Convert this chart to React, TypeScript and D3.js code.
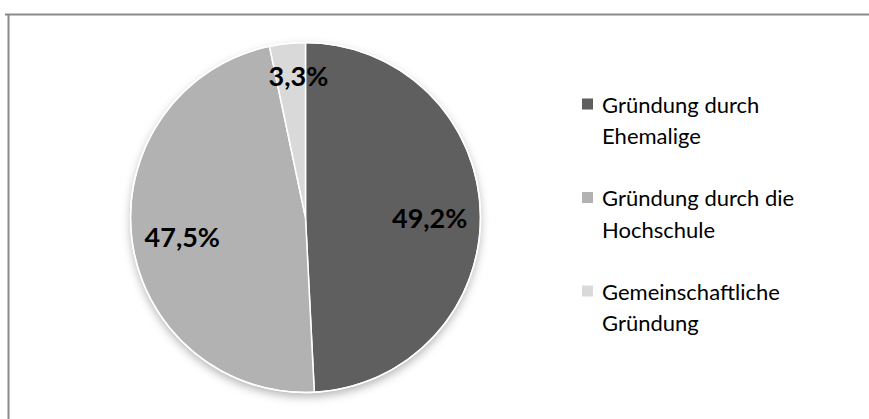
import React from "react";
import * as d3 from "d3";

const categories = ["Gründung durch Ehemalige", "Gründung durch die Hochschule", "Gemeinschaftliche Gründung"];
const legendLines = [["Gründung durch", "Ehemalige"], ["Gründung durch die", "Hochschule"], ["Gemeinschaftliche", "Gründung"]];
const values = [49.2, 47.5, 3.3];
const valueLabels = ["49,2%", "47,5%", "3,3%"];
const colors = ["#5f5f5f", "#b2b2b2", "#d9d9d9"];

const W = 869, H = 419;
const cx = 305.5, cy = 217.5, R = 175;

export default function App() {
  const pie = d3.pie<number>().sort(null).value((d) => d)(values);
  const arc = d3.arc<d3.PieArcDatum<number>>().innerRadius(0).outerRadius(R);
  const labelArc = d3.arc<d3.PieArcDatum<number>>().innerRadius(R * 0.71).outerRadius(R * 0.71);
  const labelArcSmall = d3.arc<d3.PieArcDatum<number>>().innerRadius(R * 0.835).outerRadius(R * 0.835);
  const font = "Lato, 'Open Sans', sans-serif";
  return (
    <svg width={W} height={H} style={{ position: "absolute", left: 0, top: 0 }}>
      <defs>
        <filter id="sh" x="-20%" y="-20%" width="140%" height="140%">
          <feDropShadow dx="0" dy="4" stdDeviation="5" floodColor="#000" floodOpacity="0.3" />
        </filter>
      </defs>
      <rect x={0} y={0} width={W} height={H} fill="#fff" />
      <line x1={5} y1={14.5} x2={W} y2={14.5} stroke="#8a8a8a" strokeWidth={2} />
      <line x1={8.5} y1={14} x2={8.5} y2={H} stroke="#8a8a8a" strokeWidth={2} />
      <g transform={`translate(${cx},${cy})`}>
        <circle r={R} fill="#fff" filter="url(#sh)" />
        {pie.map((p, i) => (
          <path key={categories[i]} d={arc(p) || ""} fill={colors[i]} stroke="#fff" strokeWidth={1.5} strokeLinejoin="round" />
        ))}
        <circle r={R} fill="none" stroke="#fff" strokeWidth={1.5} />
        {pie.map((p, i) => {
          const [x, y] = (i === 2 ? labelArcSmall : labelArc).centroid(p);
          return (
            <text key={"l" + i} x={i === 2 ? x + 8 : x} y={y + 3} textAnchor="middle" dominantBaseline="central"
              fontFamily={font} fontWeight="bold" fontSize={27} fill="#000">
              {valueLabels[i]}
            </text>
          );
        })}
      </g>
      <g fontFamily={font} fontSize={22} fill="#000">
        {legendLines.map((lines, i) => {
          const y0 = 104 + i * 93.5;
          return (
            <g key={"lg" + i}>
              <rect x={582} y={y0 - 5.5} width={11} height={11} fill={colors[i]} />
              {lines.map((t, j) => (
                <text key={j} x={602} y={y0 + j * 31.5} dominantBaseline="central">{t}</text>
              ))}
            </g>
          );
        })}
      </g>
    </svg>
  );
}
